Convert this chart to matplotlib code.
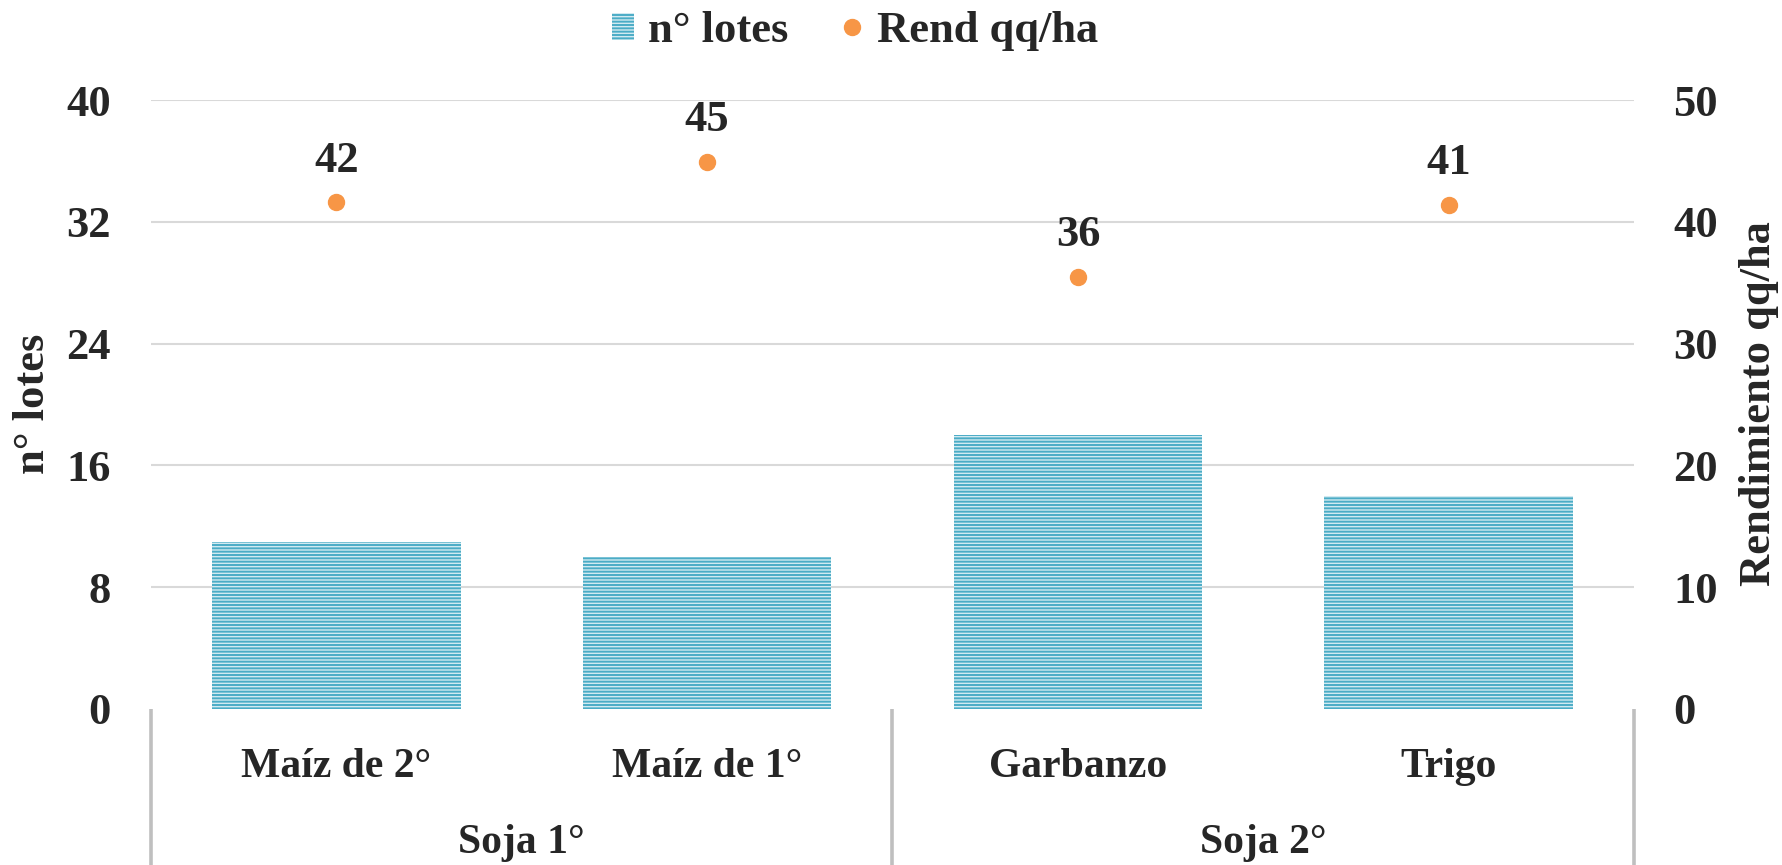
import matplotlib
matplotlib.use("Agg")
import matplotlib.pyplot as plt
from matplotlib.lines import Line2D
from matplotlib.patches import Patch
from matplotlib.transforms import blended_transform_factory

# ---- data ----
categories = ["Maíz de 2°", "Maíz de 1°", "Garbanzo", "Trigo"]
groups = ["Soja 1°", "Soja 2°"]
group_sizes = [2, 2]
n_lotes = [11, 10, 18, 14]
rend = [41.6, 44.9, 35.5, 41.4]
left_ticks = [0, 8, 16, 24, 32, 40]
right_ticks = [0, 10, 20, 30, 40, 50]

TXT = "#262626"
FONT = "Liberation Serif"
BAR_FACE = "#D2EAF1"
BAR_HATCH = "#4BACC6"
DOT = "#F79646"
GRID = "#D9D9D9"
DIV = "#BFBFBF"

plt.rcParams["font.family"] = [FONT, "DejaVu Serif"]
plt.rcParams["font.weight"] = "bold"
plt.rcParams["hatch.linewidth"] = 1.4

W, H = 1783, 865
fig = plt.figure(figsize=(W / 100, H / 100), dpi=100)
L, R, B, T = 151, 1634, 709, 100
ax = fig.add_axes([L / W, (H - B) / H, (R - L) / W, (B - T) / H])
ax2 = ax.twinx()

x = list(range(len(categories)))
ax.bar(x, n_lotes, width=0.67, facecolor=BAR_FACE, edgecolor=BAR_HATCH,
       hatch="-----", linewidth=0, zorder=2)
ax.set_xlim(-0.5, len(categories) - 0.5)
ax.set_ylim(left_ticks[0], left_ticks[-1])
ax.set_yticks(left_ticks)
ax.set_xticks([])
for yv in left_ticks[1:]:
    ax.axhline(yv, color=GRID, lw=1.5, zorder=0)

ax2.set_ylim(right_ticks[0], right_ticks[-1])
ax2.set_yticks(right_ticks)
ax2.plot(x, rend, linestyle="none", marker="o", markersize=11.5,
         color=DOT, zorder=3)
for xi, v in zip(x, rend):
    ax2.annotate(f"{v:.0f}", (xi, v), xytext=(0, 30), textcoords="offset points",
                 ha="center", va="center", fontsize=32, fontweight="bold", color=TXT)

for a in (ax, ax2):
    for s in a.spines.values():
        s.set_visible(False)
    a.tick_params(length=0, labelsize=32, labelcolor=TXT)
ax.tick_params(axis="y", pad=29)
ax2.tick_params(axis="y", pad=28)
for lab in ax.get_yticklabels() + ax2.get_yticklabels():
    lab.set_fontweight("bold")

# axis titles
fig.text(33 / W, (H - 404) / H, "n° lotes", rotation=90, ha="center", va="center",
         fontsize=32, fontweight="bold", color=TXT)
fig.text(1759 / W, (H - 404) / H, "Rendimiento qq/ha", rotation=90, ha="center",
         va="center", fontsize=32, fontweight="bold", color=TXT)

# category labels
tr = blended_transform_factory(ax.transData, fig.transFigure)
for xi, c in zip(x, categories):
    ax.text(xi, (H - 777) / H, c, transform=tr, ha="center", va="baseline",
            fontsize=30, fontweight="bold", color=TXT, clip_on=False)
# group labels and dividers
start = 0
bounds = [-0.5]
for g, n in zip(groups, group_sizes):
    center = start + (n - 1) / 2
    ax.text(center, (H - 853) / H, g, transform=tr, ha="center", va="baseline",
            fontsize=30, fontweight="bold", color=TXT, clip_on=False)
    start += n
    bounds.append(start - 0.5)
for bx in bounds:
    ax.add_line(Line2D([bx, bx], [0, (H - B) / H], transform=tr, color=DIV,
                       lw=2.6, clip_on=False, solid_capstyle="butt"))

handles = [Patch(facecolor=BAR_FACE, edgecolor=BAR_HATCH, hatch="-----", linewidth=0),
           Line2D([], [], linestyle="none", marker="o", markersize=11.5, color=DOT)]
fig.legend(handles, ["n° lotes", "Rend qq/ha"], loc="center",
           bbox_to_anchor=(855 / W, 1 - 31 / H), ncol=2, frameon=False,
           prop={"family": FONT, "weight": "bold", "size": 32},
           labelcolor=TXT, handlelength=0.5, handleheight=0.55,
           handletextpad=0.3, columnspacing=1.2, borderpad=0)

fig.savefig("out.png", dpi=100)
